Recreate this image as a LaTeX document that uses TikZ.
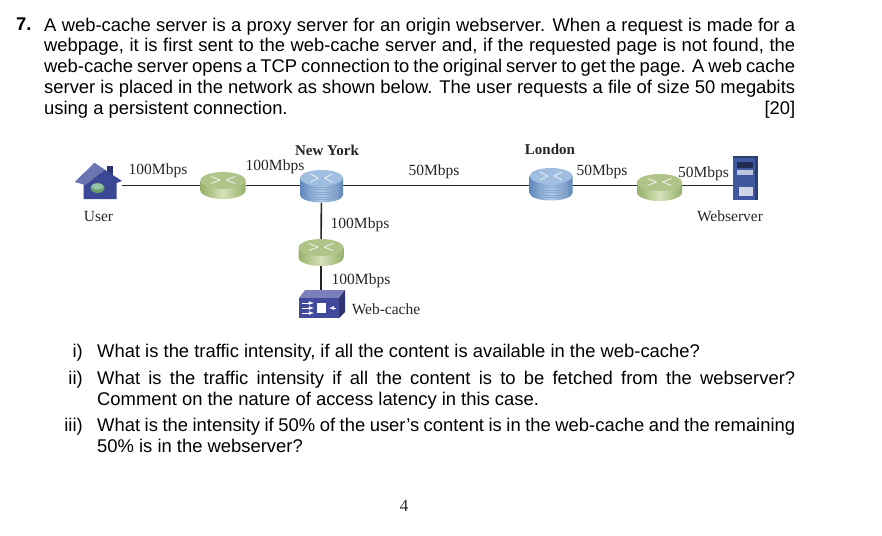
\documentclass[tikz,border=0pt]{standalone}
\usepackage{fontspec}
\setmainfont{Liberation Sans}
\newfontfamily\labelfont{Liberation Serif}
\usetikzlibrary{calc}
\definecolor{greenbody}{RGB}{150,176,104}
\definecolor{greenlight}{RGB}{214,226,186}
\definecolor{greentop}{RGB}{176,196,138}
\definecolor{bluebody}{RGB}{96,136,186}
\definecolor{bluelight}{RGB}{176,202,232}
\definecolor{bluetop}{RGB}{160,190,224}
\definecolor{housecol}{RGB}{58,72,150}
\definecolor{cachecol}{RGB}{66,74,156}
\definecolor{servercol}{RGB}{64,88,160}
\tikzset{
  bodytext/.style={inner sep=0pt,anchor=north west,align=justify,font=\fontsize{18.4}{20.85}\selectfont},
  speed/.style={inner sep=0pt,font=\labelfont\fontsize{15.5}{18}\selectfont,text=black!85},
  city/.style={speed,font=\labelfont\bfseries\fontsize{15}{18}\selectfont},
  edgeline/.style={line width=1.6pt,black!85},
  greenrouter/.style={inner sep=0pt,minimum width=45pt,minimum height=27pt},
  bluerouter/.style={inner sep=0pt,minimum width=43pt,minimum height=33pt},
  routermark/.style={white!90!gray,line width=0.8pt},
  housebox/.style={inner sep=0pt,minimum width=47pt,minimum height=37pt},
  serverbox/.style={inner sep=0pt,minimum width=25pt,minimum height=44pt},
  cachebox/.style={inner sep=0pt,minimum width=46pt,minimum height=28pt}
}
\begin{document}
\begin{tikzpicture}[x=1pt,y=-1pt]
  \useasboundingbox (0,0) rectangle (882,535);
  \fill[white] (0,0) rectangle (882,535);
  % question text
  \node[bodytext,font=\bfseries\fontsize{18.4}{20.85}\selectfont] (qnum) at (16,17.5) {7.};
  \node[bodytext,text width=751pt] (qtext) at (44,17.5) {A web-cache server is a proxy server for an origin webserver. When a request is made for a\linebreak
    webpage, it is first sent to the web-cache server and, if the requested page is not found, the\linebreak
    web-cache server opens a TCP connection to the original server to get the page. A web cache\linebreak
    server is placed in the network as shown below. The user requests a file of size 50 megabits\linebreak
    using a persistent connection.\hfill[20]};
  % network
  \node[housebox] (user) at (98.5,181) {};
  \node[greenrouter] (rleft) at (223,185.5) {};
  \node[bluerouter] (newyork) at (321.5,186) {};
  \node[bluerouter] (london) at (551,184) {};
  \node[greenrouter] (rright) at (659.5,187.5) {};
  \node[serverbox] (server) at (745.5,178) {};
  \node[greenrouter] (rdown) at (321,252.5) {};
  \node[cachebox] (cache) at (322,304) {};
  \draw[edgeline] (user.east |- rleft) -- (rleft);
  \draw[edgeline] (rleft) -- (rleft -| newyork);
  \draw[edgeline] (newyork.center |- rleft) -- (london.center |- rleft);
  \draw[edgeline] (london.center |- rleft) -- (rright.center |- rleft);
  \draw[edgeline] (rright.center |- rleft) -- (server.west |- rleft);
  \draw[edgeline] (newyork) -- (rdown);
  \draw[edgeline] (rdown) -- (rdown |- cache.north);
  % routers
  \foreach \rname in {rleft,rright,rdown}{
    \begin{scope}[shift={(\rname.center)}]
      \shade[left color=greenbody,right color=greenbody,middle color=greenlight]
        (-22.5,-5) -- (-22.5,5) arc[x radius=22.5,y radius=8.5,start angle=180,end angle=0]
        -- (22.5,-5) -- cycle;
      \fill[greentop] (0,-5) circle[x radius=22.5,y radius=8.5];
      \draw[routermark] (-12,-9) -- (-3,-5.5) (12,-9) -- (3,-5.5)
        (-12,-2) -- (-3,-5.5) (12,-2) -- (3,-5.5);
    \end{scope}
  }
  \foreach \rname in {newyork,london}{
    \begin{scope}[shift={(\rname.center)}]
      \shade[left color=bluebody,right color=bluebody,middle color=bluelight]
        (-21.5,-8) -- (-21.5,9) arc[x radius=21.5,y radius=7.5,start angle=180,end angle=0]
        -- (21.5,-8) -- cycle;
      \fill[bluetop] (0,-8) circle[x radius=21.5,y radius=8];
      \draw[routermark] (-11,-12) -- (-3,-8) (11,-12) -- (3,-8)
        (-11,-4) -- (-3,-8) (11,-4) -- (3,-8);
      \foreach \k in {1,3.5,...,13.5}
        \draw[bluebody!75!white,line width=0.6pt] (-9,\k) -- (17,\k);
    \end{scope}
  }
  % house
  \begin{scope}[shift={(user.center)}]
    \fill[housecol!75!black] (8,-15) rectangle (14,-4);
    \fill[housecol] (-23.5,1) -- (-4,-18) -- (23.5,0) -- (18,2) -- (18,18) -- (-15,18) -- (-15,1) -- cycle;
    \fill[housecol!75!white] (-23.5,1) -- (-4,-18) -- (6,-11) -- (-13,4) -- cycle;
    \fill[greenbody!70!teal] (-1,7) ellipse (7pt and 5pt);
    \fill[greenlight!70!teal] (-1,5.5) ellipse (6pt and 3pt);
  \end{scope}
  % server
  \begin{scope}[shift={(server.center)}]
    \fill[servercol!70!black] (-12.5,-22) rectangle (12.5,22);
    \fill[servercol] (-12.5,-20) rectangle (9,22);
    \fill[servercol!50!black] (-9,-16) rectangle (7,-10);
    \fill[white!65!servercol] (-9,-8) rectangle (7,-3);
    \fill[white!75!servercol] (-7,9) rectangle (7,18);
  \end{scope}
  % web cache
  \begin{scope}[shift={(cache.center)}]
    \fill[cachecol!70!white] (-23,-6) -- (-17,-14) -- (23,-14) -- (17,-6) -- cycle;
    \fill[cachecol!70!black] (17,-6) -- (23,-14) -- (23,8) -- (17,14) -- cycle;
    \fill[cachecol] (-23,-6) rectangle (17,14);
    \fill[white] (-5,-1) rectangle (4,9);
    \draw[white,line width=0.8pt,-latex] (-20,-1) -- (-8,-1);
    \draw[white,line width=0.8pt,-latex] (-20,4) -- (-8,4);
    \draw[white,line width=0.8pt,-latex] (-20,9) -- (-8,9);
    \draw[white,line width=0.8pt,-latex] (14,4) -- (7,4);
  \end{scope}
  % labels
  \node[city] (nylabel) at (327,150) {New York};
  \node[city] (ldlabel) at (550,149) {London};
  \node[speed] (sa) at (158,171) {100Mbps};
  \node[speed] (sb) at (275,167) {100Mbps};
  \node[speed] (sc) at (434,172) {50Mbps};
  \node[speed] (sd) at (602,172) {50Mbps};
  \node[speed] (se) at (703.5,174) {50Mbps};
  \node[speed] (sf) at (360,225) {100Mbps};
  \node[speed] (sg) at (361,281) {100Mbps};
  \node[speed] (userlabel) at (98.5,216) {User};
  \node[speed] (serverlabel) at (730,216) {Webserver};
  \node[speed] (cachelabel) at (386,309) {Web-cache};
  % sub questions
  \node[bodytext,anchor=north east] (qia) at (83,344) {i)};
  \node[bodytext,anchor=north east] (qib) at (83,371) {ii)};
  \node[bodytext,anchor=north east] (qic) at (83,418) {iii)};
  \node[bodytext] (qa) at (97,344) {What is the traffic intensity, if all the content is available in the web-cache?};
  \node[bodytext,text width=698pt] (qb) at (97,371) {What is the traffic intensity if all the content is to be fetched from the webserver?\linebreak
    Comment on the nature of access latency in this case.};
  \node[bodytext,text width=698pt] (qc) at (97,418) {What is the intensity if 50\% of the user’s content is in the web-cache and the remaining\linebreak
    50\% is in the webserver?};
  \node[speed,font=\labelfont\fontsize{17}{20}\selectfont] (pagenum) at (404,506) {4};
\end{tikzpicture}
\end{document}
